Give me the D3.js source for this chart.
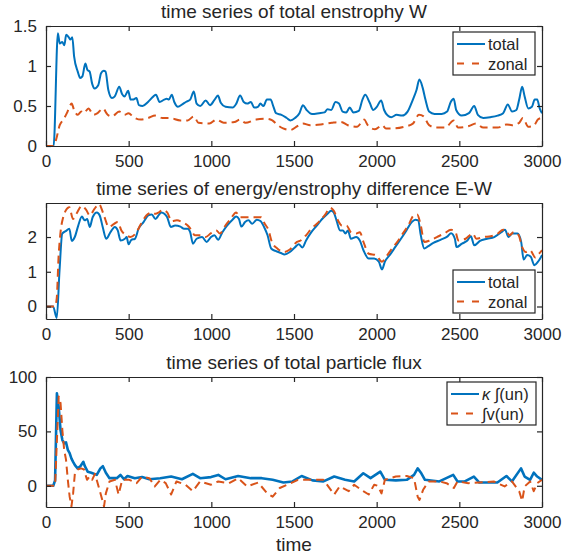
<!DOCTYPE html>
<meta charset="utf-8">
<style>
    body { margin: 0; background: #fff; }
    text { font-family: "Liberation Sans", Arial, Helvetica, sans-serif; fill: #262626; }
</style>
<script src="https://d3js.org/d3.v7.min.js"></script>
<div id="chart"></div>
<script>
var width = 566, height = 557;
var blue = "#0072bd", orange = "#d95319";

// ---- panel 1: total enstrophy W ----
var enstTotalTime = [0, 46, 72, 83, 98, 111, 122, 137, 148, 159, 170, 192, 207, 220, 238, 251, 264, 279, 294, 316, 333, 349, 360, 377, 399, 416, 443, 460, 475, 497, 512, 525, 547, 562, 584, 617, 650, 665, 687, 715, 730, 743, 761, 776, 798, 824, 846, 872, 894, 911, 933, 966, 992, 1020, 1040, 1057, 1086, 1129, 1151, 1174, 1196, 1217, 1239, 1260, 1282, 1297, 1315, 1336, 1358, 1376, 1391, 1424, 1456, 1478, 1506, 1533, 1554, 1576, 1609, 1652, 1685, 1703, 1725, 1751, 1772, 1794, 1816, 1837, 1859, 1892, 1914, 1931, 1958, 1979, 2001, 2027, 2045, 2067, 2088, 2121, 2154, 2187, 2219, 2241, 2258, 2278, 2295, 2317, 2350, 2393, 2426, 2448, 2466, 2481, 2514, 2558, 2590, 2612, 2645, 2688, 2732, 2765, 2793, 2819, 2845, 2862, 2880, 2895, 2917, 2939, 2956, 2971, 2986, 3000];
var enstTotal = [0, 0, 1.41, 1.28, 1.30, 1.26, 1.39, 1.36, 1.33, 1.36, 1.12, 0.93, 0.85, 0.87, 1.03, 0.95, 0.93, 0.78, 0.72, 0.76, 0.91, 0.94, 0.93, 0.70, 0.60, 0.62, 0.74, 0.65, 0.62, 0.69, 0.58, 0.58, 0.60, 0.51, 0.50, 0.55, 0.62, 0.64, 0.55, 0.58, 0.59, 0.58, 0.64, 0.55, 0.49, 0.52, 0.55, 0.58, 0.68, 0.53, 0.50, 0.57, 0.51, 0.58, 0.63, 0.54, 0.49, 0.48, 0.53, 0.63, 0.55, 0.53, 0.55, 0.48, 0.49, 0.53, 0.50, 0.58, 0.58, 0.49, 0.41, 0.39, 0.35, 0.32, 0.35, 0.41, 0.51, 0.45, 0.40, 0.41, 0.42, 0.46, 0.45, 0.55, 0.53, 0.43, 0.42, 0.48, 0.42, 0.44, 0.58, 0.64, 0.54, 0.45, 0.49, 0.57, 0.45, 0.38, 0.36, 0.39, 0.38, 0.43, 0.58, 0.70, 0.83, 0.73, 0.58, 0.43, 0.40, 0.40, 0.43, 0.55, 0.59, 0.45, 0.38, 0.41, 0.50, 0.39, 0.35, 0.36, 0.38, 0.41, 0.52, 0.43, 0.45, 0.58, 0.74, 0.62, 0.47, 0.49, 0.58, 0.58, 0.47, 0.41];
var enstZonalTime = [0, 46, 61, 83, 105, 126, 144, 155, 170, 192, 214, 229, 257, 286, 312, 344, 373, 399, 443, 475, 499, 530, 573, 617, 661, 704, 748, 813, 857, 894, 922, 988, 1031, 1075, 1140, 1173, 1206, 1271, 1336, 1369, 1402, 1434, 1478, 1522, 1554, 1598, 1663, 1729, 1783, 1826, 1881, 1925, 1946, 1990, 2034, 2056, 2099, 2165, 2219, 2256, 2284, 2317, 2361, 2415, 2466, 2492, 2558, 2601, 2645, 2732, 2787, 2819, 2862, 2884, 2917, 2949, 2975, 2993];
var enstZonal = [0, 0, 0.08, 0.26, 0.33, 0.41, 0.50, 0.53, 0.45, 0.39, 0.43, 0.41, 0.47, 0.39, 0.41, 0.47, 0.39, 0.37, 0.43, 0.39, 0.41, 0.36, 0.33, 0.35, 0.38, 0.35, 0.35, 0.32, 0.32, 0.37, 0.29, 0.28, 0.33, 0.29, 0.30, 0.33, 0.29, 0.33, 0.34, 0.32, 0.26, 0.22, 0.20, 0.25, 0.28, 0.26, 0.27, 0.29, 0.30, 0.26, 0.24, 0.33, 0.26, 0.21, 0.26, 0.22, 0.22, 0.24, 0.28, 0.39, 0.37, 0.26, 0.23, 0.23, 0.32, 0.23, 0.25, 0.28, 0.23, 0.23, 0.27, 0.26, 0.29, 0.35, 0.24, 0.25, 0.33, 0.35];

// ---- panel 2: energy/enstrophy difference E-W ----
var diffTotalTime = [0, 43, 65, 82, 98, 119, 141, 156, 174, 195, 217, 234, 249, 265, 282, 308, 325, 343, 364, 390, 416, 434, 451, 477, 488, 499, 516, 538, 560, 590, 618, 640, 662, 683, 698, 716, 733, 755, 781, 813, 835, 857, 872, 889, 911, 944, 972, 998, 1019, 1041, 1067, 1095, 1128, 1150, 1167, 1182, 1204, 1225, 1247, 1275, 1297, 1319, 1340, 1362, 1388, 1421, 1442, 1475, 1507, 1529, 1551, 1573, 1605, 1638, 1670, 1703, 1724, 1740, 1757, 1779, 1796, 1811, 1826, 1844, 1876, 1898, 1920, 1952, 1985, 2013, 2032, 2050, 2082, 2115, 2147, 2180, 2212, 2234, 2251, 2267, 2288, 2310, 2343, 2386, 2429, 2450, 2473, 2483, 2516, 2547, 2570, 2590, 2625, 2668, 2711, 2754, 2776, 2798, 2820, 2852, 2874, 2889, 2910, 2932, 2954, 2976, 3000];
var diffTotal = [0, 0, -0.33, 1.05, 2.10, 2.17, 2.24, 1.89, 2.00, 2.33, 2.59, 2.48, 2.52, 2.29, 2.57, 2.71, 2.62, 2.29, 1.95, 2.14, 2.29, 2.19, 1.90, 1.95, 2.00, 1.79, 1.92, 1.95, 2.24, 2.43, 2.62, 2.65, 2.52, 2.64, 2.71, 2.67, 2.57, 2.29, 2.33, 2.30, 2.24, 2.24, 2.14, 1.81, 1.95, 2.00, 1.86, 2.00, 2.05, 1.92, 2.14, 2.33, 2.50, 2.59, 2.52, 2.30, 2.43, 2.48, 2.38, 2.50, 2.46, 2.29, 2.05, 1.67, 1.60, 1.54, 1.50, 1.57, 1.71, 1.79, 1.70, 1.90, 2.14, 2.33, 2.52, 2.67, 2.76, 2.71, 2.48, 2.19, 2.19, 2.10, 2.19, 1.95, 2.00, 1.90, 1.62, 1.38, 1.38, 1.29, 1.07, 1.29, 1.50, 1.73, 1.95, 2.19, 2.43, 2.50, 2.48, 2.05, 1.67, 1.73, 1.83, 1.92, 2.02, 2.11, 1.95, 1.71, 1.81, 1.89, 2.02, 1.76, 1.89, 1.95, 2.00, 2.14, 2.21, 2.00, 2.10, 2.10, 1.86, 1.35, 1.48, 1.43, 1.19, 1.29, 1.48];
var diffZonalTime = [0, 54, 65, 76, 87, 104, 119, 141, 163, 184, 217, 243, 265, 293, 321, 347, 380, 412, 434, 456, 488, 510, 542, 575, 607, 640, 662, 683, 705, 733, 759, 792, 824, 857, 878, 900, 933, 965, 998, 1030, 1052, 1085, 1117, 1150, 1171, 1204, 1236, 1269, 1301, 1323, 1345, 1366, 1399, 1442, 1475, 1518, 1540, 1573, 1605, 1649, 1692, 1718, 1740, 1768, 1790, 1818, 1844, 1876, 1898, 1920, 1952, 1995, 2032, 2060, 2093, 2125, 2158, 2191, 2223, 2245, 2267, 2288, 2321, 2364, 2408, 2450, 2477, 2494, 2538, 2581, 2603, 2646, 2690, 2733, 2765, 2787, 2802, 2830, 2859, 2880, 2902, 2928, 2960, 2982, 3000];
var diffZonal = [0, 0, 0.24, 1.43, 2.10, 2.57, 2.76, 2.86, 2.52, 2.67, 2.90, 2.78, 2.62, 2.81, 2.95, 2.67, 2.29, 2.38, 2.43, 2.19, 2.05, 2.00, 2.10, 2.38, 2.62, 2.71, 2.67, 2.71, 2.78, 2.71, 2.46, 2.48, 2.43, 2.33, 2.21, 2.05, 2.05, 2.00, 2.11, 2.19, 2.10, 2.33, 2.52, 2.71, 2.57, 2.57, 2.57, 2.57, 2.57, 2.38, 2.21, 1.86, 1.67, 1.57, 1.64, 1.86, 1.90, 2.05, 2.24, 2.43, 2.67, 2.84, 2.76, 2.46, 2.33, 2.33, 2.14, 2.10, 2.14, 1.86, 1.52, 1.48, 1.29, 1.45, 1.67, 1.86, 2.10, 2.33, 2.62, 2.65, 2.33, 1.86, 1.90, 2.00, 2.10, 2.21, 2.14, 1.90, 1.95, 2.10, 1.95, 2.00, 2.02, 2.10, 2.21, 2.17, 2.05, 2.14, 2.05, 1.71, 1.57, 1.62, 1.41, 1.52, 1.62];

// ---- panel 3: total particle flux ----
var fluxKappaTime = [0, 44, 55, 66, 77, 88, 99, 110, 121, 132, 143, 154, 164, 175, 191, 208, 226, 235, 252, 274, 307, 329, 344, 362, 384, 428, 450, 472, 493, 537, 581, 625, 691, 757, 822, 888, 932, 998, 1042, 1086, 1162, 1239, 1305, 1371, 1436, 1491, 1546, 1612, 1678, 1743, 1809, 1864, 1919, 1963, 2022, 2050, 2116, 2182, 2226, 2248, 2270, 2292, 2379, 2463, 2489, 2533, 2588, 2621, 2730, 2785, 2818, 2873, 2895, 2928, 2950, 2971, 3000];
var fluxKappa = [0, 0, 5, 85, 72, 51, 42, 39, 40, 33, 30, 25, 22, 19, 16, 18, 22, 18, 13, 12, 10, 16, 18, 12, 7, 7, 10, 6, 9, 7, 8, 6, 7, 8.5, 6, 11, 7, 8, 10, 6, 9, 7, 7, 5.5, 3, 4, 9, 5, 4, 8.5, 5.5, 4, 11.5, 7, 13, 5.5, 5, 5.5, 10, 16, 11.5, 5.5, 4, 10, 4, 4, 8.5, 3, 3, 9, 4, 16, 8.5, 5.5, 12, 8.5, 5.5];
var fluxNuTime = [0, 55, 66, 77, 88, 99, 110, 121, 132, 143, 154, 164, 175, 191, 213, 230, 248, 263, 279, 296, 318, 351, 362, 384, 417, 439, 461, 504, 548, 581, 625, 658, 691, 724, 757, 789, 844, 888, 932, 998, 1042, 1107, 1162, 1217, 1283, 1338, 1371, 1414, 1480, 1524, 1590, 1678, 1743, 1776, 1831, 1864, 1919, 1952, 1985, 2007, 2029, 2050, 2116, 2182, 2226, 2248, 2259, 2281, 2314, 2379, 2423, 2467, 2489, 2555, 2621, 2708, 2774, 2818, 2862, 2880, 2895, 2928, 2950, 2971, 3000];
var fluxNu = [0, 0, 42, 82, 76, 51, 33, 24, 5.5, -10, -19, -7, 12, 15, 16, 15, 5.5, 8.5, 5.5, 11, -0.6, -19, -7, 4, 5.5, -8, 5.5, 5.5, 2.4, 8.5, 7, -0.6, 5.5, 2.4, -8, 4, 1, -5, 4, 1, 4, 2.4, 7, -0.6, 3, -7, -10, -2, 2.4, 5.5, 5.5, 5.5, -8, -0.6, -5, 1, -5, -8, 1, 0, -7, 5.5, 8.5, 9, 7, -10, -13, -3.7, 4, 4, 2.4, -2, 4, 2.4, 3, 4, -0.6, 4, -5, -14, -0.6, 4, -5, 2.4, 5.5];

var titles = ["time series of total enstrophy W",
              "time series of energy/enstrophy difference E-W",
              "time series of total particle flux"];
var xTicks = [0, 500, 1000, 1500, 2000, 2500, 3000];

var svg = d3.select("#chart").append("svg")
    .attr("width", width)
    .attr("height", height);

var x = d3.scaleLinear().domain([0, 3000]).range([46, 542]);

var panels = [
    {
        title: titles[0], top: 26, bottom: 146, yDomain: [0, 1.5], yTicks: [0, 0.5, 1, 1.5],
        curve: d3.curveMonotoneX,
        series: [
            {t: enstTotalTime, v: enstTotal, color: blue, dash: null, w: 2},
            {t: enstZonalTime, v: enstZonal, color: orange, dash: "8,5", w: 2}
        ],
        legend: {x: 453, y: 32, w: 82, h: 43, labels: ["total", "zonal"]}
    },
    {
        title: titles[1], top: 203, bottom: 319, yDomain: [-0.36, 2.98], yTicks: [0, 1, 2],
        curve: d3.curveMonotoneX,
        series: [
            {t: diffTotalTime, v: diffTotal, color: blue, dash: null, w: 2},
            {t: diffZonalTime, v: diffZonal, color: orange, dash: "8,5", w: 2}
        ],
        legend: {x: 453, y: 270, w: 82, h: 43, labels: ["total", "zonal"]}
    },
    {
        title: titles[2], top: 377, bottom: 507, yDomain: [-19.5, 100], yTicks: [0, 50, 100],
        curve: d3.curveLinear,
        series: [
            {t: fluxKappaTime, v: fluxKappa, color: blue, dash: null, w: 2.6},
            {t: fluxNuTime, v: fluxNu, color: orange, dash: "8,5", w: 2}
        ],
        legend: {x: 447, y: 382, w: 89, h: 43, labels: ["kappa", "nu"]}
    }
];

panels.forEach(function (p, i) {
    var y = d3.scaleLinear().domain(p.yDomain).range([p.bottom, p.top]);
    var g = svg.append("g");

    svg.append("clipPath").attr("id", "clip" + i)
        .append("rect")
        .attr("x", x(0)).attr("y", p.top)
        .attr("width", x(3000) - x(0)).attr("height", p.bottom - p.top);

    var line = d3.line()
        .curve(p.curve)
        .x(function (d) { return x(d[0]); })
        .y(function (d) { return y(d[1]); });

    p.series.forEach(function (s) {
        g.append("path")
            .datum(d3.zip(s.t, s.v))
            .attr("clip-path", "url(#clip" + i + ")")
            .attr("fill", "none")
            .attr("stroke", s.color)
            .attr("stroke-width", s.w)
            .attr("stroke-linejoin", "round")
            .attr("stroke-dasharray", s.dash)
            .attr("d", line);
    });

    // axes, ticks pointing inward like matlab
    var axes = [
        {ax: d3.axisBottom(x).tickValues(xTicks), tr: "translate(0," + p.bottom + ")", lab: true},
        {ax: d3.axisTop(x).tickValues(xTicks), tr: "translate(0," + p.top + ")", lab: false},
        {ax: d3.axisLeft(y).tickValues(p.yTicks), tr: "translate(" + x(0) + ",0)", lab: true},
        {ax: d3.axisRight(y).tickValues(p.yTicks), tr: "translate(" + x(3000) + ",0)", lab: false}
    ];
    axes.forEach(function (a) {
        a.ax.tickSizeInner(-5).tickSizeOuter(0).tickPadding(9);
        if (!a.lab) a.ax.tickFormat("");
        else a.ax.tickFormat(function (d) { return String(d); });
        var ag = g.append("g").attr("transform", a.tr).call(a.ax);
        ag.attr("font-family", null).attr("font-size", 17);
        ag.selectAll("path, line").attr("stroke", "#262626").attr("stroke-width", 1.2);
        ag.selectAll("text").attr("fill", "#262626");
    });

    g.append("text")
        .attr("x", (x(0) + x(3000)) / 2)
        .attr("y", p.top - 8)
        .attr("text-anchor", "middle")
        .style("font-size", "19px")
        .text(p.title);

    // legend
    var L = p.legend;
    var lg = g.append("g");
    lg.append("rect")
        .attr("x", L.x).attr("y", L.y).attr("width", L.w).attr("height", L.h)
        .attr("fill", "#fff").attr("stroke", "#262626").attr("stroke-width", 1.2);
    p.series.forEach(function (s, k) {
        var cy = L.y + 12 + k * 19.5;
        lg.append("line")
            .attr("x1", L.x + 4).attr("x2", L.x + 32)
            .attr("y1", cy).attr("y2", cy)
            .attr("stroke", s.color).attr("stroke-width", 2)
            .attr("stroke-dasharray", s.dash ? "7,8" : null);
        var t = lg.append("text")
            .attr("x", L.x + 35).attr("y", cy + 6)
            .style("font-size", "16.5px");
        var lab = L.labels[k];
        if (lab === "kappa") {
            t.append("tspan").style("font-style", "italic").text("κ");
            t.append("tspan").text(" ∫(un)");
        } else if (lab === "nu") {
            t.append("tspan").text("∫v(un)");
        } else {
            t.text(lab);
        }
    });
});

svg.append("text")
    .attr("x", (x(0) + x(3000)) / 2)
    .attr("y", 551)
    .attr("text-anchor", "middle")
    .style("font-size", "19px")
    .text("time");
</script>
